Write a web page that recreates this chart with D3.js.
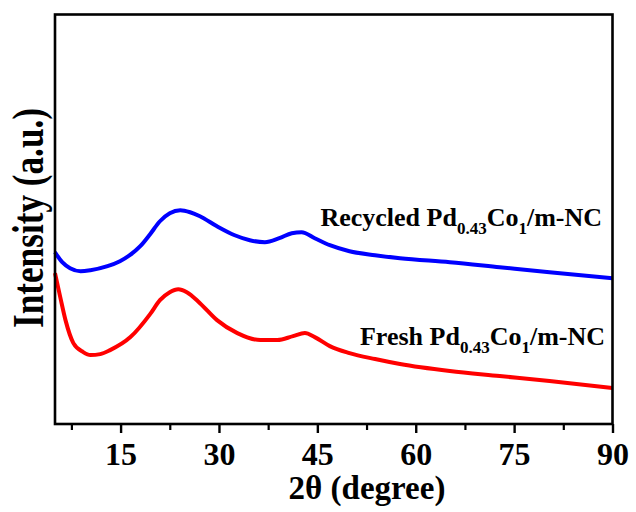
<!DOCTYPE html>
<html>
<head>
<meta charset="utf-8">
<script src="https://cdn.jsdelivr.net/npm/d3@7"></script>
<style>
  html, body { margin: 0; padding: 0; background: #fff; }
  svg text { font-family: "Liberation Serif", "Times New Roman", serif; font-weight: bold; fill: #000; }
</style>
</head>
<body>
<svg id="chart" width="636" height="512"></svg>
<script>
// 2θ (degree) positions and intensities (a.u.)
const recycledTheta = [5.0, 6.1, 7.3, 8.9, 10.4, 13.0, 14.9, 16.4, 18.0, 19.5, 21.0, 22.5, 24.1, 25.6, 27.1, 29.7, 32.4, 34.7, 37.0, 39.2, 41.1, 42.6, 44.6, 46.9, 49.9, 53.8, 57.6, 65.2, 72.8, 80.4, 90.0];
const recycledIntensity = [172, 162, 156, 153, 154, 158, 163, 169, 178, 190, 203, 211, 214, 212, 208, 198, 189, 184, 182, 186, 191, 192, 186, 179, 173, 169, 166, 162, 157, 152, 146];

const freshTheta = [5.0, 5.8, 6.6, 7.8, 9.3, 10.4, 11.9, 13.4, 16.5, 19.5, 21.0, 22.5, 23.8, 25.1, 27.1, 29.7, 32.8, 36.3, 38.9, 41.3, 43.1, 44.6, 46.9, 49.9, 53.8, 57.6, 65.2, 72.8, 80.4, 90.0];
const freshIntensity = [151, 127, 104, 81, 72, 69, 70, 74, 87, 110, 124, 132, 135, 132, 121, 104, 91, 84, 84, 88, 91, 87, 78, 71, 65, 60, 53, 48, 43, 36];

const majorTicks = [15, 30, 45, 60, 75, 90];
const minorTicks = [7.5, 22.5, 37.5, 52.5, 67.5, 82.5];
const xDomain = [5, 90];
const yDomain = [0, 410];

const seriesNames = ["Recycled", "Fresh"];
const seriesColors = ["#0000ff", "#ff0000"];

(function () {
const svg = d3.select("#chart");
const mLeft = 55, mRight = 612.5, mTop = 14.5, mBottom = 424;

const x = d3.scaleLinear().domain(xDomain).range([mLeft, mRight]);
const y = d3.scaleLinear().domain(yDomain).range([mBottom, mTop]);

const line = d3.line()
  .x(d => x(d[0]))
  .y(d => y(d[1]))
  .curve(d3.curveMonotoneX);

const series = [
  d3.zip(recycledTheta, recycledIntensity),
  d3.zip(freshTheta, freshIntensity)
];

series.forEach((s, i) => {
  svg.append("path")
    .datum(s)
    .attr("fill", "none")
    .attr("stroke", seriesColors[i])
    .attr("stroke-width", 4)
    .attr("stroke-linejoin", "round")
    .attr("d", line);
});

// frame
svg.append("rect")
  .attr("x", mLeft).attr("y", mTop)
  .attr("width", mRight - mLeft).attr("height", mBottom - mTop)
  .attr("fill", "none").attr("stroke", "#000").attr("stroke-width", 2.6);

// bottom axis: major ticks with labels
const xAxis = d3.axisBottom(x)
  .tickValues(majorTicks)
  .tickSize(9)
  .tickSizeOuter(0)
  .tickFormat(d3.format("d"));
const gx = svg.append("g").attr("transform", `translate(0,${mBottom})`).call(xAxis);
gx.select(".domain").remove();
gx.selectAll(".tick line").attr("stroke", "#000").attr("stroke-width", 2.4);
gx.selectAll(".tick text")
  .attr("y", 41).attr("dy", null)
  .style("font-family", '"Liberation Serif", "Times New Roman", serif')
  .style("font-weight", "bold")
  .style("font-size", "32px")
  .attr("fill", "#000");

// minor ticks
const xMinor = d3.axisBottom(x).tickValues(minorTicks).tickSize(6).tickSizeOuter(0).tickFormat("");
const gm = svg.append("g").attr("transform", `translate(0,${mBottom})`).call(xMinor);
gm.select(".domain").remove();
gm.selectAll(".tick line").attr("stroke", "#000").attr("stroke-width", 2.2);

// axis titles
svg.append("text")
  .attr("x", 367).attr("y", 499)
  .attr("text-anchor", "middle")
  .style("font-size", "33px")
  .text("2θ (degree)");

svg.append("text")
  .attr("transform", "translate(43,218) rotate(-90)")
  .attr("text-anchor", "middle")
  .attr("textLength", 220)
  .attr("lengthAdjust", "spacingAndGlyphs")
  .style("font-size", "44px")
  .text("Intensity (a.u.)");

// series labels
function label(prefix, xEnd, yBase) {
  const t = svg.append("text")
    .attr("x", xEnd).attr("y", yBase)
    .attr("text-anchor", "end")
    .style("font-size", "26px");
  t.append("tspan").text(prefix + " Pd");
  t.append("tspan").attr("dy", 8).style("font-size", "17px").text("0.43");
  t.append("tspan").attr("dy", -8).text("Co");
  t.append("tspan").attr("dy", 8).style("font-size", "17px").text("1");
  t.append("tspan").attr("dy", -8).text("/m-NC");
}
label(seriesNames[0], 602, 226);
label(seriesNames[1], 605, 345);
})();
</script>
</body>
</html>
